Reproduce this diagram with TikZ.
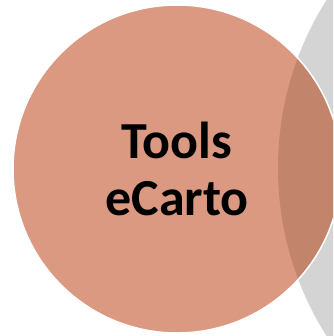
\documentclass[tikz,border=0pt]{standalone}
\usepackage{fontspec}
\setmainfont{Carlito}
\definecolor{salmon}{RGB}{218,153,128}
\definecolor{darksalmon}{RGB}{194,133,107}
\definecolor{greydisc}{RGB}{212,212,212}

\begin{document}
\begin{tikzpicture}[
  x=1pt, y=1pt,
  disc/.style={circle, inner sep=0pt, outer sep=0pt},
  nextdisc/.style={disc, fill=greydisc, minimum size=630pt},
  tooldisc/.style={disc, fill=salmon, minimum size=328pt,
    font=\fontsize{52}{57}\selectfont\bfseries, align=center}
]
\useasboundingbox (0,0) rectangle (333,-336);
\clip (0,0) rectangle (333,-336);
\node[nextdisc] (next) at (593,-168) {};
\node[tooldisc] (tools) at (177,-169) {Tools\\eCarto};
% part of the tool disc that lies over the grey one
\begin{scope}
  \clip (next.center) circle (315);
  \fill[darksalmon] (tools.center) circle (164);
\end{scope}
\draw[white, line width=1.5pt] (tools.center) circle (164);
\end{tikzpicture}
\end{document}
